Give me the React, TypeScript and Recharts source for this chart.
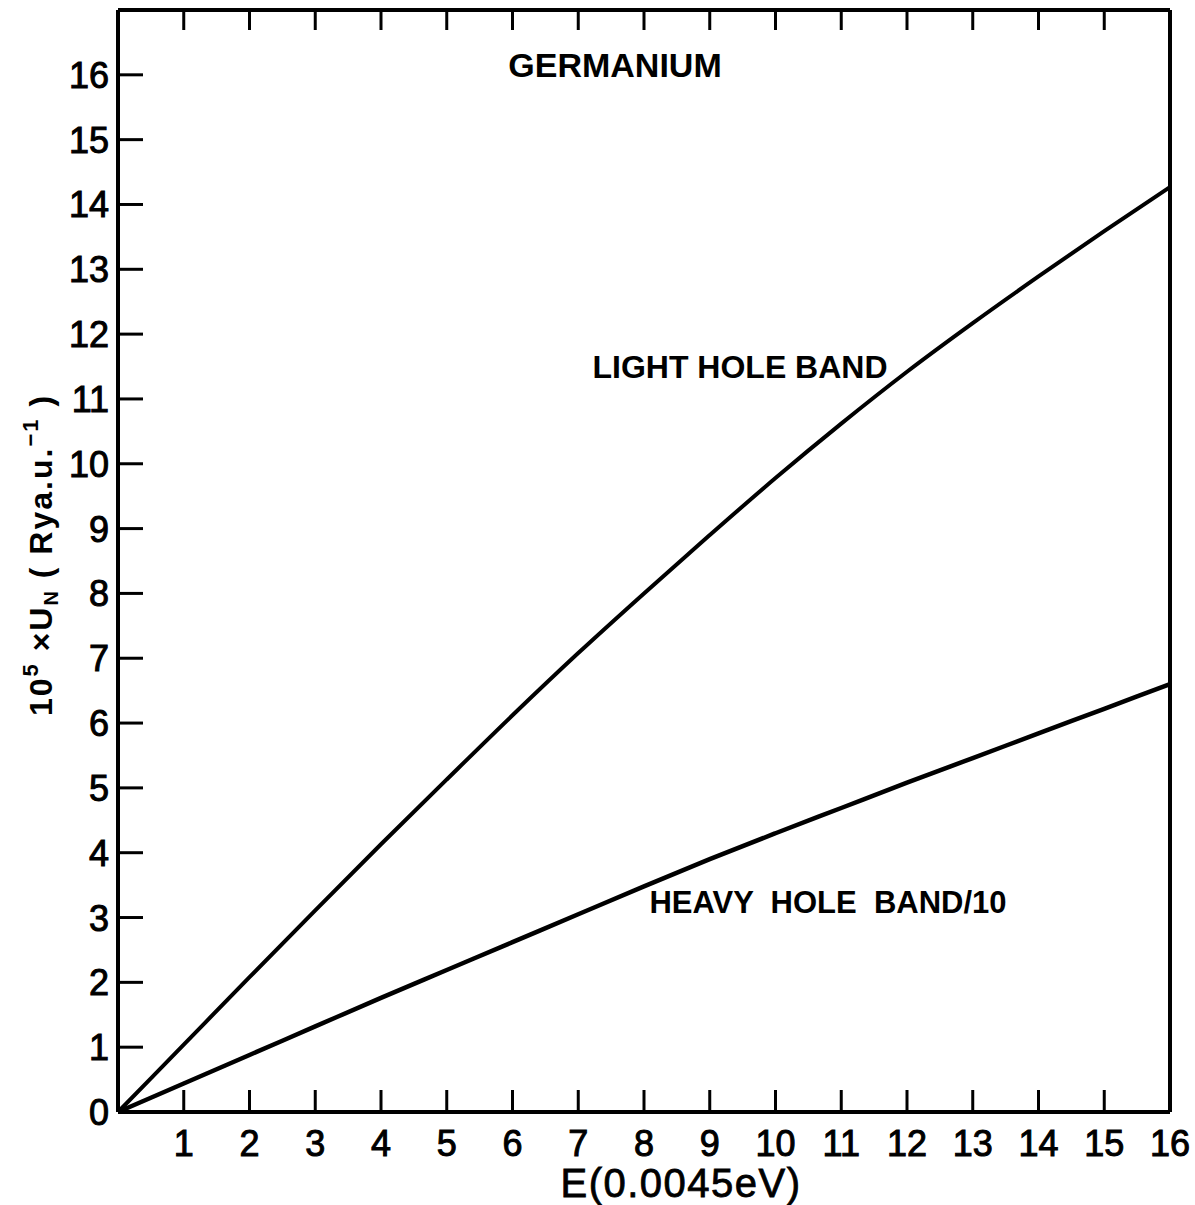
import React from 'react';
import { LineChart, Line, XAxis, YAxis } from 'recharts';

const energies = [0, 1, 2, 3, 4, 5, 6, 7, 8, 9, 10, 11, 12, 13, 14, 15, 16];
const lightHole = [0, 1.04, 2.08, 3.11, 4.13, 5.13, 6.12, 7.08, 8.0, 8.9, 9.78, 10.62, 11.42, 12.17, 12.89, 13.59, 14.27];
const heavyHoleDiv10 = [0, 0.44, 0.88, 1.32, 1.76, 2.19, 2.62, 3.05, 3.48, 3.9, 4.3, 4.69, 5.08, 5.46, 5.84, 6.22, 6.6];
const xTickLabels = [1, 2, 3, 4, 5, 6, 7, 8, 9, 10, 11, 12, 13, 14, 15, 16];
const yTickLabels = [0, 1, 2, 3, 4, 5, 6, 7, 8, 9, 10, 11, 12, 13, 14, 15, 16];
const topTicks = [1, 2, 3, 4, 5, 6, 7, 8, 9, 10, 11, 12, 13, 14, 15];
const rightTicks = [1, 2, 3, 4, 5, 6, 7, 8, 9, 10, 11, 12, 13, 14, 15, 16];

const data = energies.map((e, i) => ({ e, light: lightHole[i], heavy: heavyHoleDiv10[i] }));

const FONT = '"Liberation Sans", Arial, Helvetica, sans-serif';

const BottomTick = (props: any) => {
  const { x, y, payload } = props;
  const v = payload.value;
  return (
    <g>
      {v < 16 && <line x1={x} y1={y} x2={x} y2={y - 22} stroke="#000" strokeWidth={3} />}
      <text x={x} y={y + 44} textAnchor="middle" fontFamily={FONT} fontSize={36} fill="#000" stroke="#000" strokeWidth={1}>
        {v}
      </text>
    </g>
  );
};

const LeftTick = (props: any) => {
  const { x, y, payload } = props;
  const v = payload.value;
  return (
    <g>
      {v > 0 && <line x1={x} y1={y} x2={x + 25} y2={y} stroke="#000" strokeWidth={3} />}
      <text x={x - 9} y={y + 13} textAnchor="end" fontFamily={FONT} fontSize={36} fill="#000" stroke="#000" strokeWidth={1}>
        {v}
      </text>
    </g>
  );
};

const NoTick = () => <g />;

export default function App() {
  return (
    <div style={{ position: 'absolute', left: 0, top: 0, width: 1195, height: 1205, background: '#fff' }}>
      <LineChart width={1195} height={1205} data={data} margin={{ top: 10, right: 25, left: 0, bottom: 0 }}>
        <XAxis
          xAxisId="bottom"
          dataKey="e"
          type="number"
          domain={[0, 16]}
          ticks={xTickLabels}
          height={93}
          tickSize={0}
          tickMargin={0}
          tickLine={false}
          axisLine={{ stroke: '#000', strokeWidth: 4 }}
          tick={<BottomTick />}
          interval={0}
        />
        <XAxis
          xAxisId="top"
          dataKey="e"
          type="number"
          orientation="top"
          mirror
          domain={[0, 16]}
          ticks={topTicks}
          tickSize={20}
          tickLine={{ stroke: '#000', strokeWidth: 3 }}
          axisLine={{ stroke: '#000', strokeWidth: 4 }}
          tick={<NoTick />}
          interval={0}
        />
        <YAxis
          yAxisId="left"
          type="number"
          domain={[0, 17]}
          ticks={yTickLabels}
          width={118}
          tickSize={0}
          tickMargin={0}
          tickLine={false}
          axisLine={{ stroke: '#000', strokeWidth: 4 }}
          tick={<LeftTick />}
          interval={0}
        />
        <YAxis
          yAxisId="right"
          type="number"
          orientation="right"
          mirror
          domain={[0, 17]}
          ticks={rightTicks}
          tickSize={25}
          tickLine={{ stroke: '#000', strokeWidth: 3 }}
          axisLine={{ stroke: '#000', strokeWidth: 4 }}
          tick={<NoTick />}
          interval={0}
        />
        <Line
          xAxisId="bottom"
          yAxisId="left"
          type="monotone"
          dataKey="light"
          stroke="#000"
          strokeWidth={4}
          dot={false}
          isAnimationActive={false}
        />
        <Line
          xAxisId="bottom"
          yAxisId="left"
          type="monotone"
          dataKey="heavy"
          stroke="#000"
          strokeWidth={4.5}
          dot={false}
          isAnimationActive={false}
        />
        <text x={615} y={77} textAnchor="middle" fontFamily={FONT} fontWeight="bold" fontSize={34} fill="#000">
          GERMANIUM
        </text>
        <text x={740} y={378} textAnchor="middle" fontFamily={FONT} fontWeight="bold" fontSize={32} fill="#000">
          LIGHT HOLE BAND
        </text>
        <text x={828} y={913} textAnchor="middle" fontFamily={FONT} fontWeight="bold" fontSize={31} fill="#000" style={{ whiteSpace: 'pre' }}>
          {'HEAVY  HOLE  BAND/10'}
        </text>
        <text x={681} y={1197} textAnchor="middle" fontFamily={FONT} fontSize={40} letterSpacing={1.5} fill="#000" stroke="#000" strokeWidth={0.8}>
          E(0.0045eV)
        </text>
        <g transform="translate(52,555) rotate(-90)">
          <text x={0} y={0} textAnchor="middle" fontFamily={FONT} fontWeight="bold" fontSize={32} letterSpacing={2} fill="#000" style={{ whiteSpace: 'pre' }}>
            <tspan>10</tspan>
            <tspan fontSize={22} dy={-14}>5</tspan>
            <tspan dy={14}>{' ×U'}</tspan>
            <tspan fontSize={20} dy={6}>N</tspan>
            <tspan dy={-6}>{' ( Rya.u.'}</tspan>
            <tspan fontSize={22} dy={-14}>−1</tspan>
            <tspan dy={14}>{' )'}</tspan>
          </text>
        </g>
      </LineChart>
    </div>
  );
}
